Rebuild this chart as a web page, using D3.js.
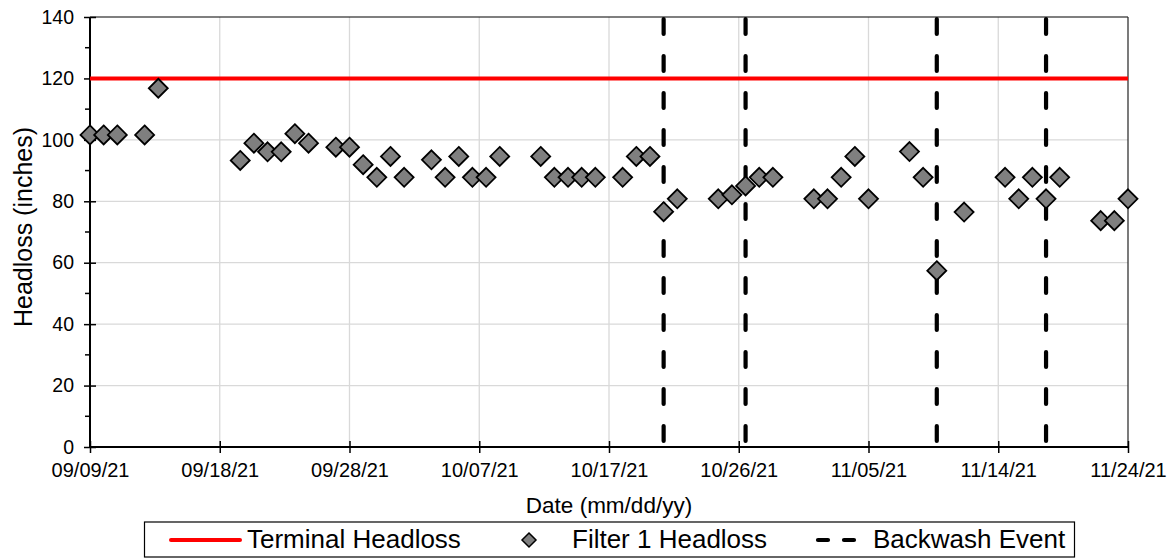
<!DOCTYPE html>
<html>
<head>
<meta charset="utf-8">
<script src="https://cdn.jsdelivr.net/npm/d3@7"></script>
<style>
html,body{margin:0;padding:0;background:#fff;}
svg{display:block;font-family:"Liberation Sans",Arial,sans-serif;}
</style>
</head>
<body>
<svg id="chart" width="1174" height="558"></svg>
<script>
// ---- data ----
const sampleDates = [
  "09/09/21","09/10/21","09/11/21","09/13/21","09/14/21",
  "09/20/21","09/21/21","09/22/21","09/23/21","09/24/21","09/25/21",
  "09/27/21","09/28/21","09/29/21","09/30/21","10/01/21","10/02/21",
  "10/04/21","10/05/21","10/06/21","10/07/21","10/08/21","10/09/21",
  "10/12/21","10/13/21","10/14/21","10/15/21","10/16/21",
  "10/18/21","10/19/21","10/20/21","10/21/21","10/22/21",
  "10/25/21","10/26/21","10/27/21","10/28/21","10/29/21",
  "11/01/21","11/02/21","11/03/21","11/04/21","11/05/21",
  "11/08/21","11/09/21","11/10/21","11/12/21",
  "11/15/21","11/16/21","11/17/21","11/18/21","11/19/21",
  "11/22/21","11/23/21","11/24/21"
];
const filter1Headloss = [
  101.6,101.6,101.6,101.6,116.8,
  93.3,98.9,96.1,96.1,102.0,98.9,
  97.6,97.6,91.9,87.8,94.6,87.8,
  93.5,87.8,94.6,87.8,87.8,94.6,
  94.6,87.8,87.8,87.8,87.8,
  87.8,94.6,94.6,76.6,80.8,
  80.8,82.1,85.0,87.8,87.8,
  80.8,80.8,87.8,94.6,80.8,
  96.2,87.8,57.4,76.5,
  87.8,80.8,87.8,80.8,87.8,
  73.7,73.7,80.8
];
const terminalHeadloss = 120;
const backwashDates = ["10/21/21","10/27/21","11/10/21","11/18/21"];
const xDomainDates = ["09/09/21","11/24/21"];
const xTickStepDays = 9.5;
const yTicks = [0,20,40,60,80,100,120,140];
const yMinorTicks = [10,30,50,70,90,110,130];
const legendLabels = ["Terminal Headloss","Filter 1 Headloss","Backwash Event"];

// ---- chart ----
const parse = d3.utcParse("%m/%d/%y");
const fmt = d3.utcFormat("%m/%d/%y");
const svg = d3.select("#chart");
const m = {left:90, right:1128, top:17, bottom:447};

const x0 = parse(xDomainDates[0]), x1 = parse(xDomainDates[1]);
const x = d3.scaleUtc().domain([x0, x1]).range([m.left, m.right]);
const y = d3.scaleLinear().domain([0,140]).range([m.bottom, m.top]);

const dayMs = 86400000;
const nDays = (x1 - x0)/dayMs;
const xTicks = d3.range(0, nDays + 0.001, xTickStepDays).map(d => new Date(+x0 + d*dayMs));

// gridlines
const g = svg.append("g");
g.selectAll(".hg").data(yTicks.filter(v=>v>0 && v<140)).join("line")
  .attr("x1", m.left).attr("x2", m.right)
  .attr("y1", d=>y(d)).attr("y2", d=>y(d))
  .attr("stroke","#d9d9d9").attr("stroke-width",1.3);
g.selectAll(".vg").data(xTicks.slice(1, -1)).join("line")
  .attr("x1", d=>x(d)).attr("x2", d=>x(d))
  .attr("y1", m.top).attr("y2", m.bottom)
  .attr("stroke","#d9d9d9").attr("stroke-width",1.3);

// top & right borders
svg.append("line").attr("x1",m.left).attr("x2",m.right).attr("y1",m.top).attr("y2",m.top)
  .attr("stroke","#000").attr("stroke-width",1.2);
svg.append("line").attr("x1",m.right).attr("x2",m.right).attr("y1",m.top).attr("y2",m.bottom)
  .attr("stroke","#222").attr("stroke-width",1.2);

// y axis
const yAxis = svg.append("g").attr("transform",`translate(${m.left},0)`)
  .call(d3.axisLeft(y).tickValues(yTicks).tickSize(6).tickFormat(d3.format("d")));
yAxis.select(".domain").remove();
yAxis.selectAll(".tick line").attr("x2",6).attr("x1",-6).attr("stroke","#000").attr("stroke-width",1.5);
yAxis.selectAll(".tick text").attr("font-size","19.5px").attr("fill","#000")
  .attr("font-family","'Liberation Sans',Arial,sans-serif").attr("x",-16);
yAxis.selectAll(".minor").data(yMinorTicks).join("line").attr("class","minor")
  .attr("x1",-5).attr("x2",0).attr("y1",d=>y(d)).attr("y2",d=>y(d))
  .attr("stroke","#000").attr("stroke-width",1.5);
yAxis.append("line").attr("x1",0).attr("x2",0).attr("y1",m.top).attr("y2",m.bottom)
  .attr("stroke","#000").attr("stroke-width",2);

// x axis
const xAxis = svg.append("g").attr("transform",`translate(0,${m.bottom})`)
  .call(d3.axisBottom(x).tickValues(xTicks).tickSize(6).tickPadding(10).tickFormat(fmt));
xAxis.select(".domain").remove();
xAxis.selectAll(".tick line").attr("y1",-6).attr("y2",6).attr("stroke","#000").attr("stroke-width",1.5);
xAxis.selectAll(".tick text").attr("font-size","20px").attr("fill","#000")
  .attr("font-family","'Liberation Sans',Arial,sans-serif");
xAxis.append("line").attr("x1",m.left).attr("x2",m.right).attr("y1",0).attr("y2",0)
  .attr("stroke","#000").attr("stroke-width",2);

// terminal headloss
svg.append("line").attr("x1",m.left).attr("x2",m.right)
  .attr("y1",y(terminalHeadloss)).attr("y2",y(terminalHeadloss))
  .attr("stroke","#ff0000").attr("stroke-width",4);

// backwash events
svg.selectAll(".bw").data(backwashDates.map(parse)).join("line")
  .attr("x1",d=>x(d)).attr("x2",d=>x(d))
  .attr("y1",m.top+2).attr("y2",m.bottom)
  .attr("stroke","#000").attr("stroke-width",4.2)
  .attr("stroke-linecap","round").attr("stroke-dasharray","15,22");

// points
const diamond = r => `M0,${-r}L${r},0L0,${r}L${-r},0Z`;
svg.selectAll(".pt").data(sampleDates.map((d,i)=>({d:parse(d), v:filter1Headloss[i]}))).join("path")
  .attr("transform",d=>`translate(${x(d.d)},${y(d.v)})`)
  .attr("d",diamond(9.5))
  .attr("fill","#7f7f7f").attr("stroke","#000").attr("stroke-width",1.8).attr("stroke-linejoin","miter");

// axis titles
svg.append("text").attr("x",(m.left+m.right)/2).attr("y",513)
  .attr("text-anchor","middle")
  .attr("font-size","22.5px").text("Date (mm/dd/yy)");
svg.append("text").attr("transform",`translate(32,${(m.top+m.bottom)/2 - 5}) rotate(-90)`)
  .attr("text-anchor","middle")
  .attr("font-size","25px").text("Headloss (inches)");

// legend
const lg = svg.append("g");
lg.append("rect").attr("x",144.5).attr("y",522).attr("width",930).attr("height",35)
  .attr("fill","#fff").attr("stroke","#000").attr("stroke-width",1.2);
const ly = 540, lb = 548;
lg.append("line").attr("x1",171).attr("x2",240).attr("y1",ly).attr("y2",ly)
  .attr("stroke","#ff0000").attr("stroke-width",4).attr("stroke-linecap","round");
lg.append("text").attr("x",247).attr("y",lb)
  .attr("font-size","26px").text(legendLabels[0]);
lg.append("path").attr("transform",`translate(529,${ly})`).attr("d",diamond(7))
  .attr("fill","#7f7f7f").attr("stroke","#000").attr("stroke-width",1.5);
lg.append("text").attr("x",572).attr("y",lb)
  .attr("font-size","26px").text(legendLabels[1]);
lg.append("line").attr("x1",818).attr("x2",856).attr("y1",ly).attr("y2",ly)
  .attr("stroke","#000").attr("stroke-width",4.2).attr("stroke-linecap","round")
  .attr("stroke-dasharray","10,16");
lg.append("text").attr("x",873).attr("y",lb)
  .attr("font-size","26px").text(legendLabels[2]);
</script>
</body>
</html>
